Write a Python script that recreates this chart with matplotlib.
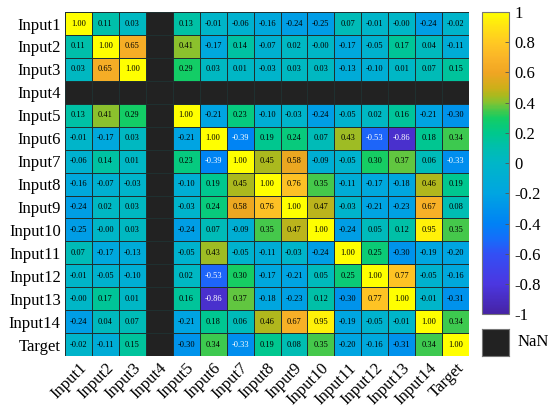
import numpy as np
import matplotlib
matplotlib.use('Agg')
import matplotlib.pyplot as plt
from matplotlib.colors import LinearSegmentedColormap

# Labels of the variables
labels = ['Input1', 'Input2', 'Input3', 'Input4', 'Input5', 'Input6', 'Input7',
          'Input8', 'Input9', 'Input10', 'Input11', 'Input12', 'Input13',
          'Input14', 'Target']

nan = np.nan
# Correlation matrix (Input4 is constant -> NaN)
corr_rows = [
    [1.00, 0.11, 0.03, nan, 0.13, -0.01, -0.06, -0.16, -0.24, -0.25, 0.07, -0.01, -0.00, -0.24, -0.02],
    [0.11, 1.00, 0.65, nan, 0.41, -0.17, 0.14, -0.07, 0.02, -0.00, -0.17, -0.05, 0.17, 0.04, -0.11],
    [0.03, 0.65, 1.00, nan, 0.29, 0.03, 0.01, -0.03, 0.03, 0.03, -0.13, -0.10, 0.01, 0.07, 0.15],
    [nan] * 15,
    [0.13, 0.41, 0.29, nan, 1.00, -0.21, 0.23, -0.10, -0.03, -0.24, -0.05, 0.02, 0.16, -0.21, -0.30],
    [-0.01, -0.17, 0.03, nan, -0.21, 1.00, -0.39, 0.19, 0.24, 0.07, 0.43, -0.53, -0.86, 0.18, 0.34],
    [-0.06, 0.14, 0.01, nan, 0.23, -0.39, 1.00, 0.45, 0.58, -0.09, -0.05, 0.30, 0.37, 0.06, -0.33],
    [-0.16, -0.07, -0.03, nan, -0.10, 0.19, 0.45, 1.00, 0.76, 0.35, -0.11, -0.17, -0.18, 0.46, 0.19],
    [-0.24, 0.02, 0.03, nan, -0.03, 0.24, 0.58, 0.76, 1.00, 0.47, -0.03, -0.21, -0.23, 0.67, 0.08],
    [-0.25, -0.00, 0.03, nan, -0.24, 0.07, -0.09, 0.35, 0.47, 1.00, -0.24, 0.05, 0.12, 0.95, 0.35],
    [0.07, -0.17, -0.13, nan, -0.05, 0.43, -0.05, -0.11, -0.03, -0.24, 1.00, 0.25, -0.30, -0.19, -0.20],
    [-0.01, -0.05, -0.10, nan, 0.02, -0.53, 0.30, -0.17, -0.21, 0.05, 0.25, 1.00, 0.77, -0.05, -0.16],
    [-0.00, 0.17, 0.01, nan, 0.16, -0.86, 0.37, -0.18, -0.23, 0.12, -0.30, 0.77, 1.00, -0.01, -0.31],
    [-0.24, 0.04, 0.07, nan, -0.21, 0.18, 0.06, 0.46, 0.67, 0.95, -0.19, -0.05, -0.01, 1.00, 0.34],
    [-0.02, -0.11, 0.15, nan, -0.30, 0.34, -0.33, 0.19, 0.08, 0.35, -0.20, -0.16, -0.31, 0.34, 1.00],
]

corr = np.ma.masked_invalid(np.array(corr_rows))

# Parula-like colormap (sampled from the colorbar of the picture)
anchors = [
    (0.00, (70, 35, 165)),
    (0.10, (75, 55, 225)),
    (0.20, (50, 80, 245)),
    (0.25, (20, 110, 250)),
    (0.30, (0, 130, 245)),
    (0.40, (0, 165, 225)),
    (0.50, (0, 182, 200)),
    (0.55, (0, 190, 175)),
    (0.60, (0, 200, 140)),
    (0.65, (20, 205, 100)),
    (0.675, (70, 200, 75)),
    (0.70, (130, 195, 50)),
    (0.725, (170, 185, 30)),
    (0.75, (205, 175, 25)),
    (0.80, (240, 165, 35)),
    (0.85, (250, 180, 40)),
    (0.90, (255, 200, 35)),
    (0.95, (255, 225, 20)),
    (1.00, (255, 255, 0)),
]
cmap = LinearSegmentedColormap.from_list(
    'parula_like', [(p, tuple(c / 255 for c in rgb)) for p, rgb in anchors])
nan_color = '#222222'
cmap.set_bad(nan_color)

plt.rcParams['font.family'] = ['Liberation Serif', 'DejaVu Serif']

fig = plt.figure(figsize=(5.5, 4.15), dpi=100)
ax = fig.add_axes([0.118, 0.142, 0.735, 0.829])
ax.set_facecolor(nan_color)

n = len(labels)
mesh = ax.pcolormesh(np.arange(n + 1), np.arange(n + 1), corr, cmap=cmap,
                     vmin=-1, vmax=1, edgecolors='#1f3030', linewidth=0.6)
ax.set_xlim(0, n)
ax.set_ylim(n, 0)

# Values inside the cells
for i in range(n):
    for j in range(n):
        v = corr_rows[i][j]
        if np.isnan(v):
            continue
        color = 'white' if v < -0.32 else 'black'
        ax.text(j + 0.5, i + 0.5, f'{v:.2f}', ha='center', va='center',
                fontsize=6, color=color)

ax.set_xticks(np.arange(n) + 0.5)
ax.set_yticks(np.arange(n) + 0.5)
ax.set_xticklabels(labels, rotation=45, ha='right', rotation_mode='anchor',
                   fontsize=12)
ax.set_yticklabels(labels, fontsize=12)
ax.tick_params(length=0, pad=3)
for sp in ax.spines.values():
    sp.set_visible(False)

# Colorbar
cax = fig.add_axes([0.876, 0.243, 0.050, 0.728])
cb = fig.colorbar(mesh, cax=cax, ticks=np.arange(-1, 1.01, 0.2))
cb.ax.set_yticklabels(['-1', '-0.8', '-0.6', '-0.4', '-0.2', '0',
                       '0.2', '0.4', '0.6', '0.8', '1'])
cb.ax.tick_params(direction='in', length=3, labelsize=12, color='#555555',
                  width=0.6)
cb.outline.set_edgecolor('#777777')
cb.outline.set_linewidth(0.8)

# NaN legend box
nax = fig.add_axes([0.876, 0.143, 0.050, 0.065])
nax.set_facecolor(nan_color)
nax.set_xticks([])
nax.set_yticks([])
for sp in nax.spines.values():
    sp.set_edgecolor('#777777')
    sp.set_linewidth(0.8)
nax.text(1.3, 0.5, 'NaN', transform=nax.transAxes, ha='left', va='center',
         fontsize=12)

plt.savefig('out.png', dpi=100)
plt.close()
